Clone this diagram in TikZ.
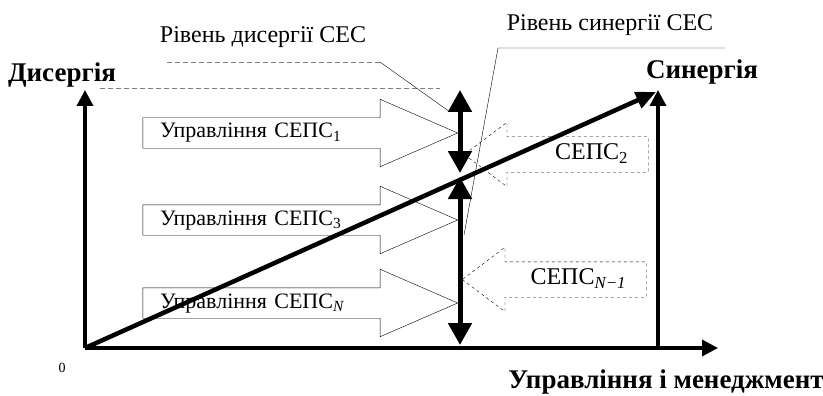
\documentclass[tikz,border=0pt]{standalone}
\usepackage{fontspec}
\setmainfont{Liberation Serif}
\usetikzlibrary{shapes,arrows.meta,positioning,calc}

\begin{document}
\begin{tikzpicture}[x=1pt, y=-1pt, font=\fontsize{24}{26}\selectfont,
    axis/.style={line width=3.5pt, -{Triangle[length=16pt,width=16pt]}},
    lvl/.style={line width=5pt, {Triangle[length=22pt,width=23pt]}-{Triangle[length=22pt,width=23pt]}},
    mgmt/.style={draw, single arrow, thin, single arrow head extend=18.5pt, single arrow tip angle=47,
        text width=245.5pt, align=left, inner xsep=17pt, inner ysep=5pt, text height=15pt, text depth=5pt,
        font=\fontsize{22}{24}\selectfont},
    seps/.style={draw, dashed, single arrow, thin, shape border rotate=180, single arrow head extend=14.5pt,
        single arrow tip angle=74, text width=120pt, align=right, inner xsep=20pt, inner ysep=7.5pt,
        text height=15pt, text depth=5pt},
    bigbold/.style={font=\fontsize{27}{29}\selectfont\bfseries},
    leader/.style={thin},
    faded/.style={thin, gray, dash pattern=on 5pt off 3pt}]
    \useasboundingbox (0,0) rectangle (823,396);

    % axes
    \coordinate (o) at (85,348);
    \coordinate (ytip) at (85,90);
    \coordinate (xtip) at (718,348);
    \coordinate (sbase) at (658,348);
    \coordinate (stip) at (658,90);
    \draw [axis] (o) -- (ytip);
    \draw [axis] (o) -- (xtip);
    \draw [axis] (sbase) -- (stip);
    \draw [line width=4.5pt, -{Triangle[length=20pt,width=17pt]}] (o) -- (656,92);

    \node [bigbold] (dis) at (62,75) {Дисергія};
    \node [bigbold] (syn) at (702,72) {Синергія};
    \node [bigbold] (xlab) at (666,382) {Управління і менеджмент};
    \node [font=\fontsize{14}{16}\selectfont] (zero) at (62,368) {0};

    % management arrows
    \node [mgmt] (ctrl1) at (282.75,133) {Управління СЕПС\textsubscript{1}};
    \node [mgmt] (ctrl3) at (282.75,220) {Управління СЕПС\textsubscript{3}};
    \node [mgmt] (ctrln) at (282.75,303) {Управління СЕПС\textsubscript{\itshape N}};
    \node [seps] (seps2) at (568,154.5) {СЕПС\textsubscript{2}};
    \node [seps] (sepsn) at (566,279.5) {СЕПС\textsubscript{\itshape N−1}};

    % levels
    \coordinate (dtop) at (460,90);
    \coordinate (dbot) at (460,173);
    \coordinate (stop) at (460,177);
    \coordinate (sbot) at (460,345);
    \draw [lvl] (dtop) -- (dbot);
    \draw [lvl] (stop) -- (sbot);

    \node (lvldis) at (263,37) {Рівень дисергії СЕС};
    \node (lvlsyn) at (610,25) {Рівень синергії СЕС};
    \coordinate (disl) at (167,62);
    \coordinate (disr) at (380,62);
    \coordinate (dpt) at (450,112);
    \coordinate (synl) at (498,48);
    \coordinate (synr) at (725,48);
    \coordinate (spt) at (464,235);
    \draw [faded] (disl) -- (disr);
    \draw [faded] (100,88) -- (440,88);
    \draw [leader] (disr) -- (dpt);
    \draw [leader] (synr) -- (synl) -- (spt);
\end{tikzpicture}
\end{document}
